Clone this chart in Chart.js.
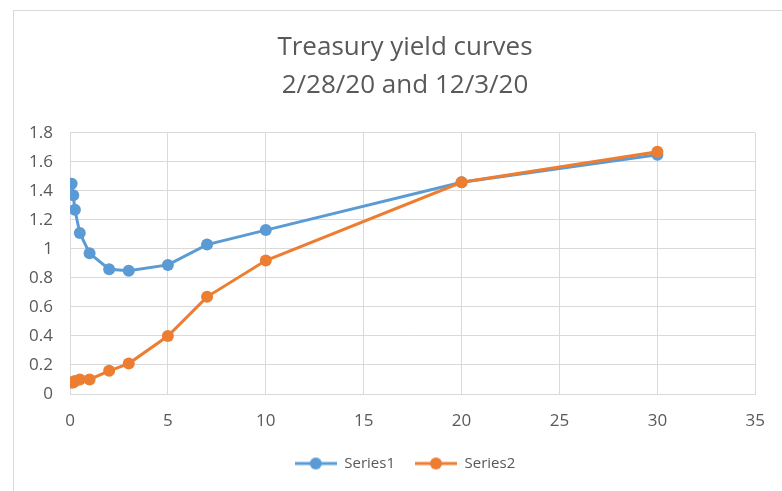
<!DOCTYPE html>
<html>
<head>
<meta charset="utf-8">
<script src="https://cdn.jsdelivr.net/npm/chart.js@4/dist/chart.umd.min.js"></script>
<style>
  html, body { margin: 0; padding: 0; background: #fff; }
  body { width: 782px; height: 491px; position: relative; overflow: hidden; }
  .frame {
    position: absolute; left: 13px; top: 10px; right: 0; bottom: 0;
    border-left: 1px solid #d9d9d9; border-top: 1px solid #d9d9d9;
  }
</style>
</head>
<body>
<div class="frame"><canvas id="yieldChart"></canvas></div>
<script>
/* ── data: maturity (years) vs yield (%) ── */
const MATURITIES = [1/12, 2/12, 3/12, 0.5, 1, 2, 3, 5, 7, 10, 20, 30];
const SERIES1 = [1.45, 1.37, 1.27, 1.11, 0.97, 0.86, 0.85, 0.89, 1.03, 1.13, 1.46, 1.65];
const SERIES2 = [0.08, 0.08, 0.09, 0.10, 0.10, 0.16, 0.21, 0.40, 0.67, 0.92, 1.46, 1.67];
const SERIES_NAMES = ['Series1', 'Series2'];
const TITLE_LINES = ['Treasury yield curves', '2/28/20 and 12/3/20'];

const BLUE = '#5b9bd5';
const ORANGE = '#ed7d31';
const TEXT = '#595959';
const GRID = '#d9d9d9';
const FONT = "'Open Sans', sans-serif";

// legend marker: short line with a dot in the middle
function legendMarker(color) {
  const c = document.createElement('canvas');
  c.width = 42; c.height = 14;
  const g = c.getContext('2d');
  g.strokeStyle = color; g.lineWidth = 3;
  g.beginPath(); g.moveTo(0, 7); g.lineTo(42, 7); g.stroke();
  g.fillStyle = color;
  g.beginPath(); g.arc(21, 7, 6, 0, Math.PI * 2); g.fill();
  return c;
}

const toPoints = ys => ys.map((y, i) => ({ x: MATURITIES[i], y }));

const colors = [BLUE, ORANGE];
const markers = colors.map(legendMarker);

// y scale box is kept narrow so title/legend sit a bit right of centre;
// widen its label clip area back to the canvas edge
const yLabelRoom = {
  id: 'yLabelRoom',
  afterLayout(chart) { chart.scales.y.left = 0; }
};

new Chart(document.getElementById('yieldChart'), {
  type: 'scatter',
  data: {
    datasets: [SERIES1, SERIES2].map((ys, i) => ({
      label: SERIES_NAMES[i],
      data: toPoints(ys),
      showLine: true,
      borderColor: colors[i],
      backgroundColor: colors[i],
      borderWidth: 3,
      pointRadius: 6,
      pointBorderWidth: 0,
      pointHoverRadius: 6,
      order: 1 - i,   // Series2 drawn on top
    }))
  },
  plugins: [yLabelRoom],
  options: {
    responsive: true,
    maintainAspectRatio: false,
    animation: false,
    layout: { padding: { left: 37, right: 23, top: 0, bottom: 10 } },
    plugins: {
      title: {
        display: true,
        text: TITLE_LINES,
        color: TEXT,
        font: { family: FONT, size: 26, weight: 'normal', lineHeight: 1.46 },
        padding: { top: 18, bottom: 28 }
      },
      legend: {
        position: 'bottom',
        labels: {
          color: TEXT,
          font: { family: FONT, size: 15 },
          usePointStyle: true,
          pointStyleWidth: 42,
          padding: 20,
          generateLabels: chart => chart.data.datasets.map((ds, i) => ({
            text: ds.label,
            pointStyle: markers[i],
            fillStyle: ds.borderColor,
            strokeStyle: ds.borderColor,
            lineWidth: 0,
            fontColor: TEXT,
            hidden: false,
            datasetIndex: i
          }))
        }
      },
      tooltip: { enabled: false }
    },
    scales: {
      x: {
        type: 'linear',
        min: 0, max: 35,
        grid: { color: GRID, drawTicks: false },
        border: { color: GRID },
        ticks: {
          stepSize: 5, padding: 17, color: TEXT,
          font: { family: FONT, size: 17 }
        },
        afterFit: s => { s.height = 42; }
      },
      y: {
        min: 0, max: 1.8,
        grid: { color: GRID, drawTicks: false },
        border: { color: GRID },
        ticks: {
          stepSize: 0.2, padding: 17, color: TEXT,
          font: { family: FONT, size: 17 },
          callback: v => String(+v.toFixed(1))
        },
        afterFit: s => { s.width = 19; }
      }
    }
  }
});
</script>
</body>
</html>
